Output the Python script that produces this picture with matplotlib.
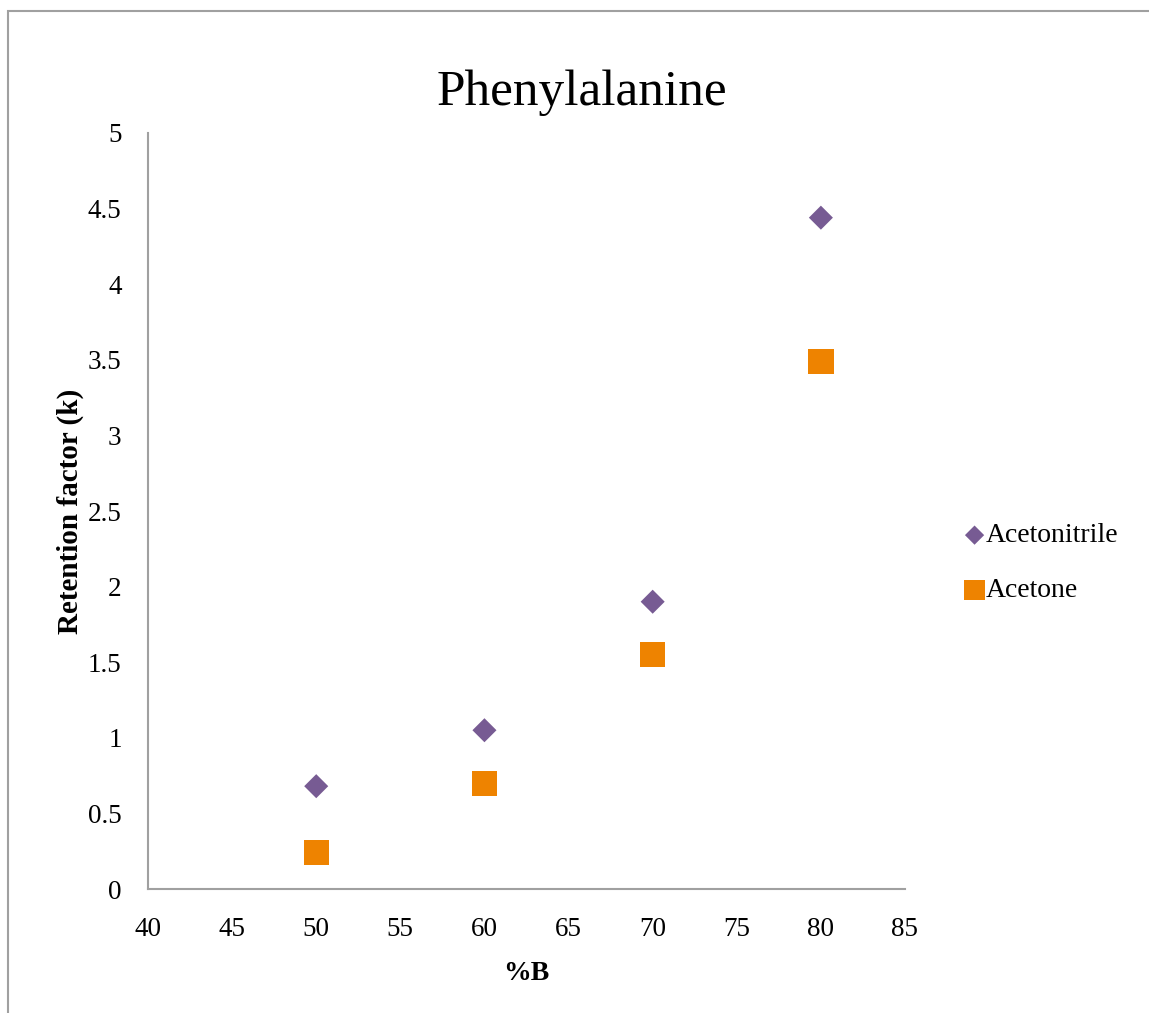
import matplotlib
matplotlib.use('Agg')
import matplotlib.pyplot as plt
from matplotlib.patches import Rectangle

# Retention factor vs. %B for phenylalanine
pct_b = [50, 60, 70, 80]
k_acetonitrile = [0.68, 1.05, 1.90, 4.44]
k_acetone = [0.24, 0.70, 1.55, 3.49]

x_ticks = [40, 45, 50, 55, 60, 65, 70, 75, 80, 85]
y_ticks = [0, 0.5, 1, 1.5, 2, 2.5, 3, 3.5, 4, 4.5, 5]
y_tick_labels = ['0', '0.5', '1', '1.5', '2', '2.5', '3', '3.5', '4', '4.5', '5']

plt.rcParams['font.family'] = ['Liberation Serif', 'DejaVu Serif']

W, H = 1149, 1013
fig = plt.figure(figsize=(W / 100, H / 100), dpi=100)

# chart frame (only left and top edges fall inside the image)
fig.patches.append(Rectangle((8 / W, -0.05), 1.2, 1 - 11 / H + 0.05,
                             transform=fig.transFigure, fill=False,
                             ec='#a0a0a0', lw=1.5))

ax = fig.add_axes([148 / W, 1 - 889 / H, (905 - 148) / W, (889 - 133) / H])

ax.scatter(pct_b, k_acetonitrile, marker='D', s=150, color='#775b93',
           edgecolors='none', label='Acetonitrile', zorder=3)
ax.scatter(pct_b, k_acetone, marker='s', s=330, color='#ee8300',
           edgecolors='none', label='Acetone', zorder=3)

ax.set_xlim(40, 85)
ax.set_ylim(0, 5)
ax.set_xticks(x_ticks)
ax.set_yticks(y_ticks)
ax.set_yticklabels(y_tick_labels)
ax.tick_params(length=0, labelsize=19.5)
ax.tick_params(axis='y', pad=19)
ax.tick_params(axis='x', pad=20)

for side in ['top', 'right']:
    ax.spines[side].set_visible(False)
for side in ['left', 'bottom']:
    ax.spines[side].set_color('#a0a0a0')
    ax.spines[side].set_linewidth(1.5)

ax.set_xlabel('%B', fontsize=20, fontweight='bold', labelpad=14)
ax.set_ylabel('Retention factor (k)', fontsize=21, fontweight='bold', labelpad=3)

fig.text(582 / W, 1 - 93 / H, 'Phenylalanine', fontsize=37,
         ha='center', va='center')

ax.legend(loc='center left', bbox_to_anchor=(944 / W, 1 - 563 / H),
          bbox_transform=fig.transFigure, frameon=False, fontsize=20,
          handletextpad=-0.2, labelspacing=1.05, borderpad=0,
          handlelength=1.2, markerscale=0.8)

fig.savefig('out.png', dpi=100)
